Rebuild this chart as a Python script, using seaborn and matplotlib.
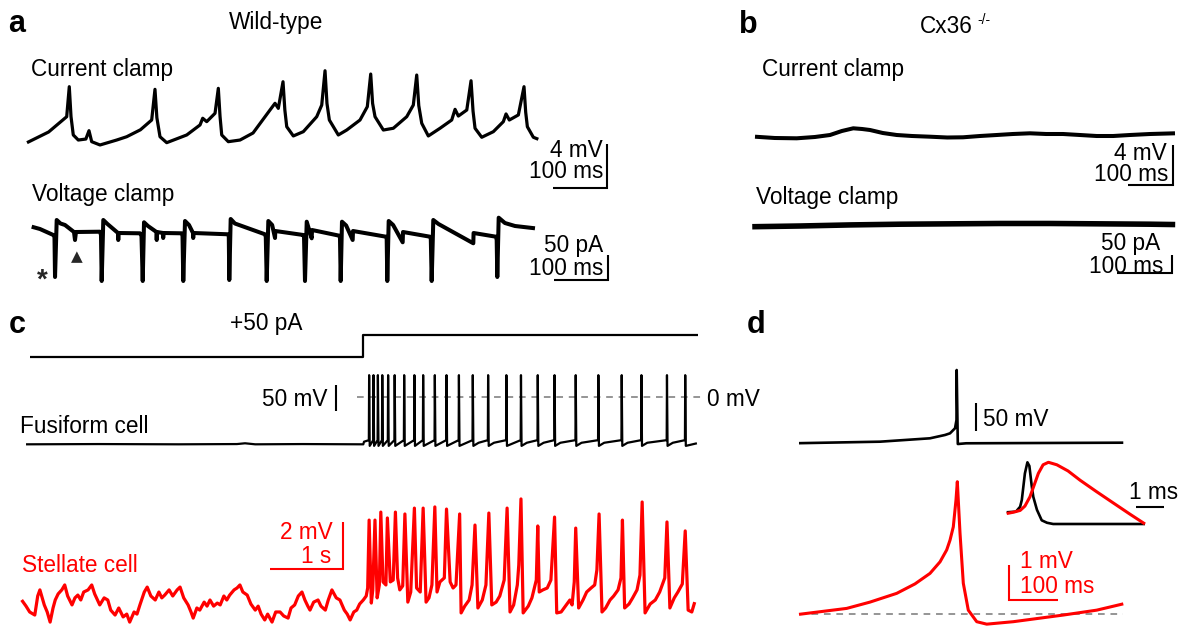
import matplotlib
matplotlib.use("Agg")
import matplotlib.pyplot as plt
import seaborn as sns

W, H = 1183, 627
RED = "#ff0000"
GREY = "#8c8c8c"

# ---------------- a: wild-type ----------------
# current clamp: time (ms), membrane potential (mV, relative)
wt_cc_t = [0, 40, 73.5, 78.3, 81.5, 85.7, 95, 109, 114.8, 119.8, 135.2, 166.1, 184.6, 210, 230.9,
           237, 240.5, 246.3, 258.7, 295.8, 320.4, 325.4, 332.8, 348.2, 354.3, 357.5, 360.6,
           372.8, 394.5, 418.6, 450, 459.3, 465.4, 474.1, 477.5, 481, 493.2, 511.7, 536.5,
           545.8, 551.9, 555.5, 559.9, 576.5, 592.1, 616.7, 630.2, 636.5, 640, 644.5, 659.9,
           678.4, 703.2, 715.4, 721.7, 725.5, 731, 743.2, 764.9, 786.5, 792.7, 798.8, 814.4,
           822.3, 826, 829.7, 842.1, 863.6, 882.1, 887.1, 893.2, 909.9, 920.4, 923.5, 926.6,
           937.7, 946.9]
wt_cc_v = [0.03, 1.0, 2.39, 5.12, 2.4, 0.73, 0.27, 0.36, 1.12, 0.12, -0.18, 0.27, 0.57, 1.2, 2.09,
           4.88, 2.3, 0.57, 0.03, 0.73, 1.64, 2.25, 1.94, 2.70, 4.97, 2.4, 0.73,
           0.12, 0.27, 0.91, 3.0, 3.61, 3.15, 5.57, 3.0, 1.48, 0.64, 1.03, 2.39,
           3.45, 6.57, 3.6, 2.09, 0.73, 1.18, 2.09, 3.30, 6.27, 3.6, 2.39, 1.18,
           1.34, 2.39, 3.45, 6.18, 3.4, 1.79, 0.64, 1.34, 2.09, 3.06, 2.45, 3.0,
           5.66, 2.9, 1.34, 0.52, 1.03, 1.94, 2.64, 2.09, 2.55, 5.12, 2.8, 1.48,
           0.52, 0.34]

# voltage clamp: time (ms), holding current (pA, relative)
wt_vc_t = [8.7, 24, 48.7, 50.9, 51.9, 55, 62, 70.4, 87, 88.9, 90.7, 135.2, 137, 138.3, 141.3, 149,
           168.5, 169, 169.6, 209.3, 212, 214.3, 216.7, 224, 239.8, 240.2, 240.7, 251.9, 252.2,
           252.8, 286.5, 288, 289.4, 292.6, 300, 307.4, 307.8, 308.3, 372.8, 373.7, 374.6, 377.2,
           385, 440.7, 442.2, 443.9, 446.9, 454, 459.3, 459.8, 511.7, 513, 514.8, 518, 527.2,
           527.8, 578.3, 579.6, 580.9, 583.3, 591, 603.1, 603.7, 664.8, 666.1, 667.2, 669.8,
           678, 695.7, 696.3, 746.3, 747.8, 749.4, 752.4, 762, 826.5, 827, 868.5, 869.8, 870.9,
           873.5, 885, 903.7, 940.7]
wt_vc_i = [2.6, -2, -14, -18, -98, 16, 9, 6, -8, -24, -8, -7.4, -14, -106, 16, 8,
           -10, -24, -10, -10.6, -16, -106, 11.4, 4, -8, -24, -8, -10, -20,
           -10, -10.6, -16, -106, 14, 6, -10, -20, -10, -12.6, -18, -104, 18,
           9, -12.6, -18, -106, 14, 6, -20, -6, -14, -18, -106, 12.6, -20.6,
           -4, -15.4, -20, -106, 12.6, 5, -24, -6, -17.4, -22, -106, 14,
           6, -28.6, -8, -17.4, -22, -106, 16, 8, -30.6, -10, -17.4, -24, -98,
           20.6, 10, 4, -0.6]

# ---------------- b: Cx36 knockout ----------------
ko_cc_t = [0, 44, 92.7, 133, 166.7, 193, 218.4, 238, 255.6, 284, 314.9, 349, 388.9, 427,
           462.2, 500, 537.1, 573, 611.1, 647, 684.4, 722, 759.3, 796, 833.3, 878, 933.3]
ko_cc_v = [0.03, -0.1, -0.13, 0.0, 0.2, 0.6, 0.87, 0.8, 0.7, 0.4, 0.2, 0.1, 0.03, -0.05,
           -0.03, 0.1, 0.2, 0.3, 0.37, 0.3, 0.3, 0.2, 0.1, 0.1, 0.2, 0.3, 0.37]

ko_vc_t = [-5, 82, 173, 264, 355, 445, 536, 627, 718, 764]
ko_vc_i = [-2, 0, 3, 5, 6, 7, 7, 6, 5, 4]

# ---------------- c: current step, fusiform and stellate cells ----------------
step_t = [0.16, 4.73, 4.73, 9.31]          # s
step_pa = [0, 0, 50, 50]                  # pA

fus_rest_t = [0.11, 1.1, 2.2, 3.0, 3.11, 3.25, 3.9, 4.73, 4.74]
fus_rest_v = [-91, -90.5, -91, -90.5, -89, -91, -90.5, -91, -86]
fus_spike_t = [4.81, 4.87, 4.93, 4.99, 5.07, 5.16, 5.29, 5.43, 5.55, 5.71, 5.87, 6.04,
               6.23, 6.44, 6.69, 6.89, 7.12, 7.35, 7.64, 7.95, 8.27, 8.54, 8.89, 9.14]
fus_peak_mv = 42
fus_trough_mv = -94
fus_prespike_mv = -83
fus_end_t, fus_end_v = 9.30, -89

stel_t = [0.05, 0.11, 0.16, 0.23, 0.27, 0.30, 0.36, 0.40, 0.44, 0.48, 0.51, 0.55, 0.60, 0.64,
          0.68, 0.74, 0.78, 0.82, 0.86, 0.90, 0.96, 1.01, 1.05, 1.12, 1.18, 1.23, 1.27, 1.33,
          1.38, 1.44, 1.49, 1.53, 1.59, 1.63, 1.67, 1.73, 1.77, 1.82, 1.88, 1.93, 1.97, 2.01,
          2.07, 2.12, 2.18, 2.22, 2.27, 2.33, 2.37, 2.40, 2.45, 2.49, 2.55, 2.59, 2.63, 2.68,
          2.73, 2.77, 2.82, 2.86, 2.90, 2.96, 3.00, 3.04, 3.08, 3.14, 3.19, 3.25, 3.29, 3.33,
          3.38, 3.42, 3.48, 3.53, 3.59, 3.64, 3.70, 3.74, 3.79, 3.84, 3.89, 3.93, 3.97, 4.00,
          4.05, 4.11, 4.15, 4.21, 4.25, 4.30, 4.36, 4.41, 4.47, 4.51, 4.55, 4.60, 4.64, 4.68,
          4.73,
          4.77, 4.79, 4.81, 4.84, 4.86, 4.89, 4.92, 4.95, 4.97, 5.00, 5.04, 5.06, 5.10, 5.14,
          5.17, 5.20, 5.23, 5.27, 5.30, 5.34, 5.38, 5.43, 5.46, 5.51, 5.55, 5.59, 5.63, 5.67,
          5.71, 5.74, 5.78, 5.84, 5.87, 5.92, 5.96, 6.00, 6.05, 6.07, 6.12, 6.18, 6.22, 6.26,
          6.30, 6.36, 6.41, 6.45, 6.49, 6.55, 6.60, 6.66, 6.70, 6.74, 6.79, 6.84, 6.86, 6.89,
          6.92, 6.99, 7.04, 7.10, 7.12, 7.14, 7.19, 7.25, 7.30, 7.35, 7.38, 7.44, 7.51, 7.56,
          7.59, 7.62, 7.64, 7.68, 7.74, 7.79, 7.85, 7.90, 7.93, 7.96, 8.00, 8.05, 8.11, 8.16,
          8.22, 8.26, 8.28, 8.31, 8.37, 8.42, 8.48, 8.52, 8.55, 8.59, 8.66, 8.73, 8.79, 8.86,
          8.89, 8.93, 8.99, 9.04, 9.10, 9.14, 9.18, 9.23, 9.27]
stel_v = [0.0, -0.26, -0.51, -0.64, 0.17, 0.43, -0.21, -0.51, -0.94, -0.34, 0.0, 0.26, 0.43, 0.64,
          0.17, -0.21, 0.09, 0.21, 0.0, 0.34, 0.43, 0.64, 0.26, -0.21, 0.09, 0.0, -0.43, -0.64,
          -0.34, -0.72, -0.60, -0.94, -0.51, -0.60, -0.21, 0.34, 0.55, 0.17, 0.0, 0.34, 0.09, 0.21,
          0.43, 0.17, 0.43, 0.55, 0.09, -0.21, -0.51, -0.77, -0.34, -0.43, -0.09, -0.26, 0.0, -0.26,
          -0.13, -0.21, 0.17, 0.0, 0.21, 0.43, 0.51, 0.64, 0.34, 0.21, -0.17, -0.43, -0.26, -0.60,
          -0.85, -0.60, -0.94, -0.51, -0.51, -0.68, -0.77, -0.34, -0.21, 0.17, 0.34, 0.0, -0.26, -0.43,
          -0.09, 0.0, -0.26, -0.43, 0.0, 0.43, 0.09, 0.0, -0.43, -0.60, -0.85, -0.51, -0.43, -0.17,
          0.0,
          0.17, 0.51, 3.40, -0.13, 0.43, 3.40, 0.09, 0.64, 3.74, 0.77, 0.64, 3.49, 0.77, 0.85,
          3.74, 0.94, 0.43, 0.60, 3.66, -0.09, 0.34, 3.91, 0.51, 0.34, 3.91, -0.09, 0.09, 0.64,
          3.96, 0.34, 0.77, 0.94, 3.87, 0.77, 0.51, 0.64, 3.66, -0.55, -0.26, 0.0, 0.64, 3.19,
          -0.34, 0.0, 0.64, 3.70, -0.21, -0.09, 0.17, 0.85, 3.91, -0.51, -0.21, 0.64, 1.49, 4.30,
          -0.55, -0.26, 0.09, 0.85, 3.15, 0.34, 0.43, 0.51, 0.85, 3.53, -0.55, -0.51, -0.21, 0.0,
          -0.21, 0.77, 3.06, -0.34, 0.0, 0.34, 0.51, 0.64, 1.28, 3.66, -0.51, -0.34, 0.0, 0.17,
          0.43, 0.94, 3.40, -0.34, -0.17, 0.09, 0.43, 1.06, 4.17, -0.55, -0.17, 0.0, 0.34, 0.94,
          3.32, -0.34, 0.09, 0.34, 0.68, 2.94, -0.43, -0.51, -0.09]

# ---------------- d: averaged fusiform spike and stellate response ----------------
d_fus_t = [0, 165.3, 267.3, 298, 308.2, 318.4, 321.4, 321.8, 324.1, 341.2, 661.8]
d_fus_v = [-90.4, -87.7, -81.6, -75.6, -72.6, -63.5, -48.6, 41.7, -91.9, -90.6, -89.5]

d_stel_t = [0, 97.3, 144.9, 199.4, 236.7, 267.3, 287.8, 301.4, 308.2, 314.9, 320.4, 323.1,
            328.6, 335.3, 345.5, 362.7, 383.1, 437.3, 539.4, 607.6, 661.8]
d_stel_v = [-0.01, 0.16, 0.34, 0.59, 0.86, 1.16, 1.49, 1.83, 2.11, 2.49, 3.26, 3.78,
            2.31, 0.88, 0.11, -0.22, -0.29, -0.22, -0.03, 0.11, 0.29]

# inset: normalised waveforms on a 1 ms time base
ins_fus_t = [0, 0.33, 0.48, 0.54, 0.65, 0.74, 0.81, 0.89, 0.95, 1.08, 1.25, 1.44, 1.66, 4.94]
ins_fus_a = [0.19, 0.20, 0.28, 0.39, 0.82, 1.0, 0.94, 0.63, 0.44, 0.23, 0.06, 0.02, 0.0, 0.0]
ins_stel_t = [0, 0.23, 0.48, 0.65, 0.83, 0.98, 1.13, 1.30, 1.49, 1.79, 2.19, 2.62, 3.19, 3.81,
              4.40, 4.94]
ins_stel_a = [0.17, 0.19, 0.22, 0.29, 0.44, 0.63, 0.82, 0.96, 1.0, 0.96, 0.86, 0.71, 0.53, 0.34,
              0.16, 0.0]

# ---------------------------------------------------------------------------
sns.set_theme(style="white")
plt.rcParams["font.family"] = ["Liberation Sans", "DejaVu Sans"]
plt.rcParams["lines.solid_capstyle"] = "butt"

fig = plt.figure(figsize=(W / 100, H / 100), dpi=100)
fig.patch.set_facecolor("white")

ax_txt = fig.add_axes([0, 0, 1, 1])
ax_txt.set_xlim(0, W)
ax_txt.set_ylim(H, 0)
ax_txt.axis("off")

panels = []


def trace_axes(box, x0, sx, y0, sy):
    """Transparent axes over a pixel box; x0/y0 = pixel of data zero, sx/sy = pixels per unit."""
    l, t, r, b = box
    ax = fig.add_axes([l / W, 1 - b / H, (r - l) / W, (b - t) / H])
    ax.patch.set_alpha(0)
    panels.append((ax, ((l - x0) / sx, (r - x0) / sx), ((y0 - b) / sy, (y0 - t) / sy)))
    return ax


def trace(ax, x, y, color="black", lw=2.0, **kw):
    sns.lineplot(x=x, y=y, ax=ax, color=color, linewidth=lw, sort=False,
                 estimator=None, legend=False, **kw)


def bar_L(ax, xc, yc, dx, dy, color="black", lw=1.5):
    """Scale bar: horizontal of length dx ending at corner (xc, yc), vertical dy going up."""
    ax.plot([xc + dx, xc, xc], [yc, yc, yc + dy], color=color, lw=lw,
            solid_joinstyle="miter", clip_on=False)


# ---- a ----
ax = trace_axes((0, 40, 620, 200), 27, 0.54, 143, 11)
trace(ax, wt_cc_t, wt_cc_v, lw=2.3)
bar_L(ax, 1074, -4.09, -100, 4)

ax = trace_axes((0, 200, 620, 300), 27, 0.54, 228, 0.5)
trace(ax, wt_vc_t, wt_vc_i, lw=2.9)
bar_L(ax, 1076, -104, -100, 50)

# ---- b ----
ax = trace_axes((740, 40, 1183, 200), 755, 0.45, 137, 10)
trace(ax, ko_cc_t, ko_cc_v, lw=2.9)
bar_L(ax, 928.9, -4.8, -100, 4)

ax = trace_axes((740, 200, 1183, 300), 755, 0.55, 226, 0.36)
trace(ax, ko_vc_t, ko_vc_i, lw=4.0)
bar_L(ax, 757.6, -131.4, -100, 50)

# ---- c ----
ax = trace_axes((0, 320, 740, 370), 18, 73, 357, 0.44)
trace(ax, step_t, step_pa, lw=1.6)

# fusiform trace assembled from the resting segment and the spike times
fx, fy = list(fus_rest_t), list(fus_rest_v)
for i, ts in enumerate(fus_spike_t):
    fx += [ts - 0.004, ts, ts + 0.008]
    fy += [fus_prespike_mv, fus_peak_mv, fus_trough_mv]
    if i + 1 < len(fus_spike_t) and fus_spike_t[i + 1] - ts > 0.2:
        fx.append(ts + 0.08)
        fy.append(fus_prespike_mv - 5)
fx.append(fus_end_t)
fy.append(fus_end_v)

ax = trace_axes((0, 360, 740, 460), 18, 73, 397, 0.52)
ax.plot([4.64, 9.37], [0, 0], color=GREY, lw=1.3, ls=(0, (3.7, 3.2)))
trace(ax, fx, fy, lw=1.6)
ax.plot([4.356, 4.356], [-26.9, 23.1], color="black", lw=1.5)

ax = trace_axes((0, 480, 740, 627), 18, 73, 600, 23.5)
trace(ax, stel_t, stel_v, color=RED, lw=2.3)
bar_L(ax, 4.45, 1.32, -1, 2, color=RED)

# ---- d ----
ax = trace_axes((780, 350, 1183, 460), 799, 0.49, 393.1, 0.554)
trace(ax, d_fus_t, d_fus_v, lw=1.9)
ax.plot([361.2, 361.2], [-68.4, -18.4], color="black", lw=1.5)

ax = trace_axes((780, 470, 1183, 627), 799, 0.49, 614, 35)
ax.plot([0, 662], [0, 0], color=GREY, lw=1.3, ls=(0, (3.7, 3.2)))
trace(ax, d_stel_t, d_stel_v, color=RED, lw=2.2)
bar_L(ax, 428.6, 0.4, 100, 1, color=RED)

ax = trace_axes((1000, 455, 1183, 530), 1006.7, 28, 524, 61.7)
trace(ax, ins_fus_t, ins_fus_a, lw=1.9)
trace(ax, ins_stel_t, ins_stel_a, color=RED, lw=2.2)
ax.plot([4.62, 5.62], [0.28, 0.28], color="black", lw=1.5)

for ax, xl, yl in panels:
    ax.set_xlim(*xl)
    ax.set_ylim(*yl)
    ax.axis("off")

# ---- text ----
FS = 16.3


def label(x, y, s, ha="left", color="black", size=FS, **kw):
    ax_txt.text(x, y, s, ha=ha, va="baseline", color=color, fontsize=size, **kw)


for x, y, s in [(8, 32, "a"), (739, 33, "b"), (9, 333, "c"), (747, 333, "d")]:
    label(x, y, s, size=22, fontweight="bold")

label(276, 29, "Wild-type", ha="center")
label(920, 33, "Cx36")
label(977, 24, "-/-", size=10)

label(31, 76, "Current clamp")
label(32, 201, "Voltage clamp")
label(603, 157, "4 mV", ha="right")
label(603, 178, "100 ms", ha="right")
label(603, 252, "50 pA", ha="right")
label(603, 275, "100 ms", ha="right")
ax_txt.text(42.5, 281, "*", ha="center", va="center", fontsize=20, fontweight="bold")
ax_txt.text(76.5, 257, "\u25B2", ha="center", va="center", fontsize=11, family="DejaVu Sans")

label(762, 76, "Current clamp")
label(756, 204, "Voltage clamp")
label(1167, 160, "4 mV", ha="right")
label(1168, 181, "100 ms", ha="right")
label(1160, 250, "50 pA", ha="right")
label(1163, 273, "100 ms", ha="right")

label(266, 330, "+50 pA", ha="center")
label(328, 406, "50 mV", ha="right")
label(707, 406, "0 mV")
label(20, 433, "Fusiform cell")
label(333, 539, "2 mV", ha="right", color=RED)
label(331, 563, "1 s", ha="right", color=RED)
label(22, 572, "Stellate cell", color=RED)

label(983, 426, "50 mV")
label(1154, 499, "1 ms", ha="center")
label(1020, 568, "1 mV", color=RED)
label(1020, 593, "100 ms", color=RED)

fig.savefig("out.png", dpi=100, facecolor="white")
